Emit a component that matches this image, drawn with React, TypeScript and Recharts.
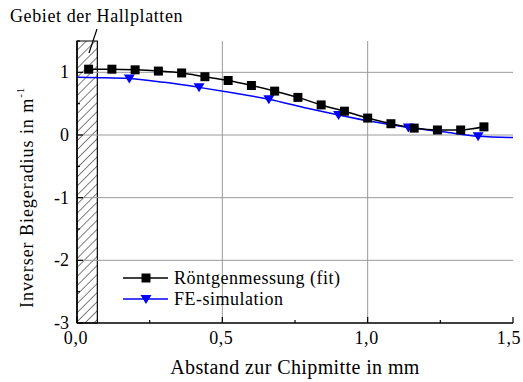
import { Legend, Line, LineChart, ReferenceArea, ReferenceLine, XAxis, YAxis } from "recharts";

// Röntgenmessung (fit): squares
const xrayX = [0.04, 0.12, 0.2, 0.28, 0.36, 0.44, 0.52, 0.6, 0.68, 0.76, 0.84, 0.92, 1.0, 1.08, 1.16, 1.24, 1.32, 1.4];
const xrayY = [1.05, 1.05, 1.04, 1.02, 0.99, 0.93, 0.87, 0.79, 0.7, 0.6, 0.48, 0.38, 0.27, 0.18, 0.11, 0.08, 0.08, 0.13];

// FE-simulation: curve, triangles only at some points
const feX = [0, 0.08, 0.18, 0.3, 0.42, 0.54, 0.66, 0.78, 0.9, 1.02, 1.14, 1.26, 1.38, 1.5];
const feY = [0.92, 0.915, 0.9, 0.84, 0.76, 0.67, 0.57, 0.44, 0.32, 0.21, 0.12, 0.05, -0.02, -0.04];
const feMarkers = [0.18, 0.42, 0.66, 0.9, 1.14, 1.38];

const xTicks = [0, 0.25, 0.5, 0.75, 1, 1.25, 1.5];
const xLabels = [0, 0.5, 1, 1.5];
const yTicks = [-3, -2.5, -2, -1.5, -1, -0.5, 0, 0.5, 1, 1.5];
const yLabels = [-3, -2, -1, 0, 1];
const xGrid = [0.5, 1];
const yGrid = [-2, -1, 0, 1];
const hallRegion = [0, 0.07];

const xrayData = xrayX.map((x, i) => ({ x, y: xrayY[i] }));
const feData = feX.map((x, i) => ({ x, y: feY[i] }));

const FONT = "'Liberation Serif', 'Times New Roman', serif";
const serif = { fontFamily: FONT };
const comma = (v: number) => v.toFixed(1).replace(".", ",");
const isMajor = (v: number, list: number[]) => list.some((m) => Math.abs(m - v) < 1e-6);

function BottomTick({ x, y, payload }: any) {
  const major = isMajor(payload.value, xLabels);
  return (
    <g>
      <line x1={x} y1={y} x2={x} y2={y - (major ? 6 : 3)} stroke="#000" strokeWidth={1.2} />
      {major && (
        <text x={Math.min(x - 1, 509)} y={y + 21} textAnchor="middle" style={serif} fontSize={18} letterSpacing={0.6} fill="#000">
          {comma(payload.value)}
        </text>
      )}
    </g>
  );
}

function TopTick({ x, y, payload }: any) {
  const major = isMajor(payload.value, xLabels);
  return <line x1={x} y1={y} x2={x} y2={y + (major ? 6 : 3)} stroke="#000" strokeWidth={1.2} />;
}

function LeftTick({ x, y, payload }: any) {
  const major = isMajor(payload.value, yLabels);
  return (
    <g>
      <line x1={x} y1={y} x2={x + (major ? 6 : 3)} y2={y} stroke="#000" strokeWidth={1.2} />
      {major && (
        <text x={x - 8} y={y + 6} textAnchor="end" style={serif} fontSize={18} fill="#000">
          {payload.value}
        </text>
      )}
    </g>
  );
}

function RightTick({ x, y, payload }: any) {
  const major = isMajor(payload.value, yLabels);
  return <line x1={x} y1={y} x2={x - (major ? 6 : 3)} y2={y} stroke="#000" strokeWidth={1.2} />;
}

function Square({ cx, cy }: any) {
  if (cx == null || cy == null) return null;
  return <rect x={cx - 4.5} y={cy - 4.5} width={9} height={9} fill="#000" />;
}

function Triangle({ cx, cy, payload }: any) {
  if (cx == null || cy == null || !isMajor(payload.x, feMarkers)) return <g />;
  return <path d={`M${cx - 5.5},${cy - 4} L${cx + 5.5},${cy - 4} L${cx},${cy + 5} Z`} fill="#0000ff" />;
}

function LegendBox() {
  return (
    <svg width={240} height={46} style={{ display: "block" }}>
      <line x1={3} y1={12} x2={48} y2={12} stroke="#000" strokeWidth={1.5} />
      <rect x={21.5} y={7.5} width={9} height={9} fill="#000" />
      <text x={54} y={18} style={serif} fontSize={18} letterSpacing={0.5} fill="#000">
        Röntgenmessung (fit)
      </text>
      <line x1={3} y1={33} x2={48} y2={33} stroke="#0000ff" strokeWidth={1.5} />
      <path d="M20.5,29 L31.5,29 L26,38 Z" fill="#0000ff" />
      <text x={54} y={39} style={serif} fontSize={18} letterSpacing={0.5} fill="#000">
        FE-simulation
      </text>
    </svg>
  );
}

function YTitle() {
  return (
    <text
      x={33}
      y={308}
      transform="rotate(-90 33 308)"
      textAnchor="start"
      style={serif}
      fontSize={18}
      letterSpacing={0.95}
      fill="#000"
    >
      Inverser Biegeradius in m
      <tspan dy={-9} fontSize={11}>
        -1
      </tspan>
    </text>
  );
}

export default function App() {
  return (
    <div style={{ position: "absolute", left: 0, top: 0, width: 523, height: 382, background: "#fff" }}>
      <LineChart width={523} height={382} margin={{ top: 41, right: 10, bottom: 0, left: 0 }}>
        <defs>
          <pattern id="hatch" patternUnits="userSpaceOnUse" width={6.4} height={6.4} patternTransform="rotate(45)">
            <line x1={0} y1={0} x2={0} y2={6.4} stroke="#000" strokeWidth={1} />
          </pattern>
        </defs>
        <XAxis
          xAxisId="bottom"
          type="number"
          dataKey="x"
          domain={[0, 1.5]}
          ticks={xTicks}
          interval={0}
          height={59}
          tickSize={0}
          tickMargin={0}
          tickLine={false}
          tick={<BottomTick />}
          axisLine={{ stroke: "#000", strokeWidth: 1.5 }}
          label={{
            value: "Abstand zur Chipmitte in mm",
            position: "insideBottom",
            offset: 8,
            style: serif,
            fontSize: 20,
            letterSpacing: 0.4,
            fill: "#000",
          }}
        />
        <XAxis
          xAxisId="top"
          orientation="top"
          type="number"
          domain={[0, 1.5]}
          ticks={xTicks}
          interval={0}
          height={0}
          tickSize={0}
          tickMargin={0}
          tickLine={false}
          tick={<TopTick />}
          axisLine={{ stroke: "#000", strokeWidth: 1.5 }}
        />
        <YAxis
          yAxisId="left"
          type="number"
          domain={[-3, 1.5]}
          ticks={yTicks}
          interval={0}
          width={77}
          tickSize={0}
          tickMargin={0}
          tickLine={false}
          tick={<LeftTick />}
          axisLine={{ stroke: "#000", strokeWidth: 1.5 }}
          label={{ content: () => <YTitle /> }}
        />
        <YAxis
          yAxisId="right"
          orientation="right"
          type="number"
          domain={[-3, 1.5]}
          ticks={yTicks}
          interval={0}
          width={0}
          tickSize={0}
          tickMargin={0}
          tickLine={false}
          tick={<RightTick />}
          axisLine={{ stroke: "#000", strokeWidth: 1.5 }}
        />
        {xGrid.map((v) => (
          <ReferenceLine key={`gx${v}`} xAxisId="bottom" yAxisId="left" x={v} stroke="#9a9a9a" strokeWidth={1} />
        ))}
        {yGrid.map((v) => (
          <ReferenceLine key={`gy${v}`} xAxisId="bottom" yAxisId="left" y={v} stroke="#9a9a9a" strokeWidth={1} />
        ))}
        <ReferenceArea
          xAxisId="bottom"
          yAxisId="left"
          x1={hallRegion[0]}
          x2={hallRegion[1]}
          fill="url(#hatch)"
          fillOpacity={1}
          stroke="#000"
          strokeWidth={1.2}
        />
        <Line
          xAxisId="bottom"
          yAxisId="left"
          data={feData}
          dataKey="y"
          name="FE-simulation"
          type="monotone"
          stroke="#0000ff"
          strokeWidth={1.5}
          dot={<Triangle />}
          activeDot={false}
          isAnimationActive={false}
        />
        <Line
          xAxisId="bottom"
          yAxisId="left"
          data={xrayData}
          dataKey="y"
          name="Röntgenmessung (fit)"
          type="monotone"
          stroke="#000"
          strokeWidth={1.5}
          dot={<Square />}
          activeDot={false}
          isAnimationActive={false}
        />
        <Legend
          layout="vertical"
          align="center"
          verticalAlign="middle"
          wrapperStyle={{ left: 120, top: 266, width: 240 }}
          content={() => <LegendBox />}
        />
      </LineChart>
      <svg width={523} height={382} style={{ position: "absolute", left: 0, top: 0, pointerEvents: "none" }}>
        <text x={10} y={22} style={serif} fontSize={18} letterSpacing={0.6} fill="#000">
          Gebiet der Hallplatten
        </text>
        <line x1={97} y1={29} x2={89} y2={53} stroke="#000" strokeWidth={1.2} />
      </svg>
    </div>
  );
}
